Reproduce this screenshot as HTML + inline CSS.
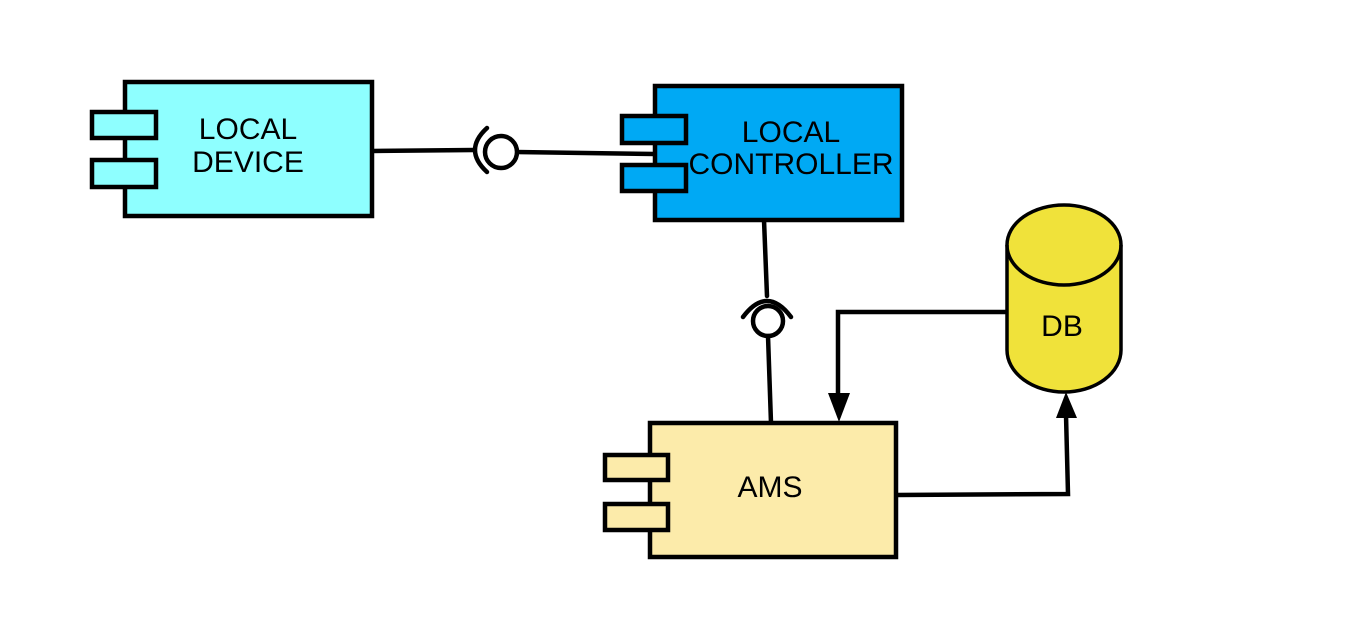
<!DOCTYPE html>
<html><head><meta charset="utf-8"><style>
html,body{margin:0;padding:0;background:#fff;}
svg{display:block;}
text{font-family:"Liberation Sans",sans-serif;font-size:30px;fill:#000;text-anchor:middle;}
</style></head><body>
<svg width="1350" height="629" viewBox="0 0 1350 629" xmlns="http://www.w3.org/2000/svg">
<rect width="1350" height="629" fill="#fff"/>
<g stroke="#000" stroke-width="4.5" fill="none" stroke-linecap="round">
<line x1="372" y1="151" x2="474" y2="150"/>
<line x1="516" y1="152" x2="655" y2="154"/>
<path d="M487 128 Q463 150 487 172"/>
<circle cx="501" cy="152" r="16" fill="#fff"/>
<line x1="764" y1="220" x2="767" y2="296"/>
<path d="M743 317 Q767 285 791 317"/>
<circle cx="768" cy="321" r="15" fill="#fff"/>
<line x1="768" y1="336" x2="771" y2="423"/>
<polyline points="1007,312 838,312 838,400"/>
<polyline points="896,495 1068,494 1066,415"/>
</g>
<polygon points="828,393 850,393 839,422" fill="#000"/>
<polygon points="1056,418 1077,418 1066,392" fill="#000"/>
<g stroke="#000" stroke-width="4.5">
<rect x="125" y="82" width="247" height="134" fill="#8effff"/>
<rect x="92" y="112" width="64" height="26" fill="#8effff"/>
<rect x="92" y="160" width="64" height="27" fill="#8effff"/>
<rect x="655" y="86" width="247" height="134" fill="#00a9f4"/>
<rect x="622" y="116" width="64" height="27" fill="#00a9f4"/>
<rect x="622" y="165" width="64" height="26" fill="#00a9f4"/>
<rect x="650" y="423" width="246" height="134" fill="#fcebaa"/>
<rect x="605" y="455" width="63" height="25" fill="#fcebaa"/>
<rect x="605" y="504" width="63" height="26" fill="#fcebaa"/>
</g>
<g stroke="#000" stroke-width="3.5" fill="#f0e23a">
<path d="M1007 245 L1007 350 A57 42 0 0 0 1121 350 L1121 245 A57 40 0 0 0 1007 245 Z"/>
<path d="M1007 245 A57 40 0 0 0 1121 245" fill="none"/>
</g>
<text x="248" y="139">LOCAL</text>
<text x="248" y="172">DEVICE</text>
<text x="791" y="142">LOCAL</text>
<text x="791" y="174">CONTROLLER</text>
<text x="770" y="497">AMS</text>
<text x="1062" y="336">DB</text>
</svg>
</body></html>
